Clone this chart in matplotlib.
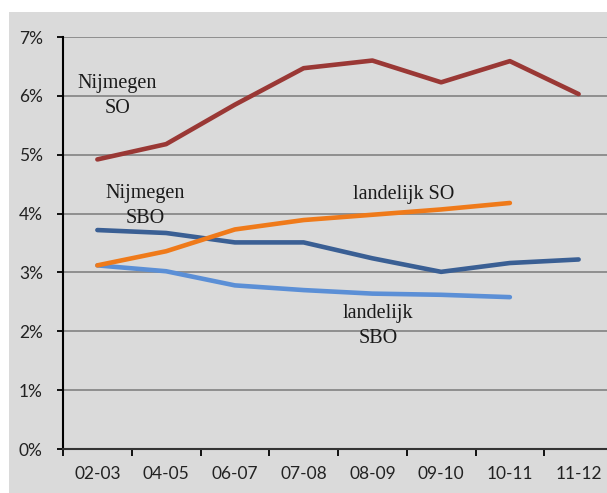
import matplotlib
matplotlib.use('Agg')
import matplotlib.pyplot as plt
from matplotlib.patches import Rectangle
from matplotlib.ticker import FixedLocator, PercentFormatter

# school years on the x axis
years = ['02-03', '04-05', '06-07', '07-08', '08-09', '09-10', '10-11', '11-12']

# percentages
nijmegen_so = [4.92, 5.18, 5.85, 6.47, 6.60, 6.23, 6.59, 6.03]
nijmegen_sbo = [3.72, 3.67, 3.51, 3.51, 3.24, 3.01, 3.16, 3.22]
landelijk_so = [3.12, 3.36, 3.73, 3.89, 3.98, 4.07, 4.18]
landelijk_sbo = [3.12, 3.02, 2.78, 2.70, 2.64, 2.62, 2.58]

W, H = 607, 493
fig = plt.figure(figsize=(W / 100, H / 100), dpi=100)
fig.patch.set_facecolor('white')
fig.patches.append(Rectangle((9 / W, 0), 1, 481 / H, transform=fig.transFigure,
                             facecolor='#dadada', edgecolor='none', zorder=-10))

ax = fig.add_axes([63 / W, 44 / H, 550 / W, 412 / H])
ax.set_facecolor('none')

x = list(range(len(years)))
ax.plot(x, nijmegen_so, color='#9a3835', lw=3.3, solid_capstyle='round', zorder=3)
ax.plot(x, nijmegen_sbo, color='#3a5f94', lw=3.3, solid_capstyle='round', zorder=3)
ax.plot(x[:len(landelijk_so)], landelijk_so, color='#ef7a1a', lw=3.3, solid_capstyle='round', zorder=3)
ax.plot(x[:len(landelijk_sbo)], landelijk_sbo, color='#5b8fd6', lw=3.3, solid_capstyle='round', zorder=2)

ax.set_xlim(-0.5, len(years) - 0.5)
ax.set_ylim(0, 7)
ax.set_yticks(range(0, 8))
ax.yaxis.set_major_formatter(PercentFormatter(decimals=0))
ax.grid(axis='y', color='#8e8e8e', lw=1.4)
ax.set_axisbelow(True)

ax.set_xticks(x)
ax.set_xticklabels(years)
ax.xaxis.set_minor_locator(FixedLocator([i - 0.5 for i in range(len(years) + 1)]))
ax.tick_params(axis='x', which='major', length=0, pad=12)
ax.tick_params(axis='x', which='minor', length=5, width=1.3, color='black')
ax.tick_params(axis='y', length=4.5, width=1.3, color='black', pad=10)
for lab in ax.get_xticklabels() + ax.get_yticklabels():
    lab.set_fontfamily('Lato')
    lab.set_fontsize(12.5)
    lab.set_color('#222222')

for side in ['top', 'right']:
    ax.spines[side].set_visible(False)
ax.spines['left'].set_linewidth(1.5)
ax.spines['bottom'].set_linewidth(1.5)
ax.spines['bottom'].set_color('#333333')

txt = dict(family='Liberation Serif', fontsize=14.5, color='#1a1a1a',
           ha='center', va='center', linespacing=1.45, zorder=4)
ax.text(0.29, 6.0, 'Nijmegen\nSO', **txt)
ax.text(0.69, 4.13, 'Nijmegen\nSBO', **txt)
ax.text(4.45, 4.33, 'landelijk SO', **txt)
ax.text(4.08, 2.09, 'landelijk\nSBO', **txt)

fig.savefig('out.png', dpi=100)
